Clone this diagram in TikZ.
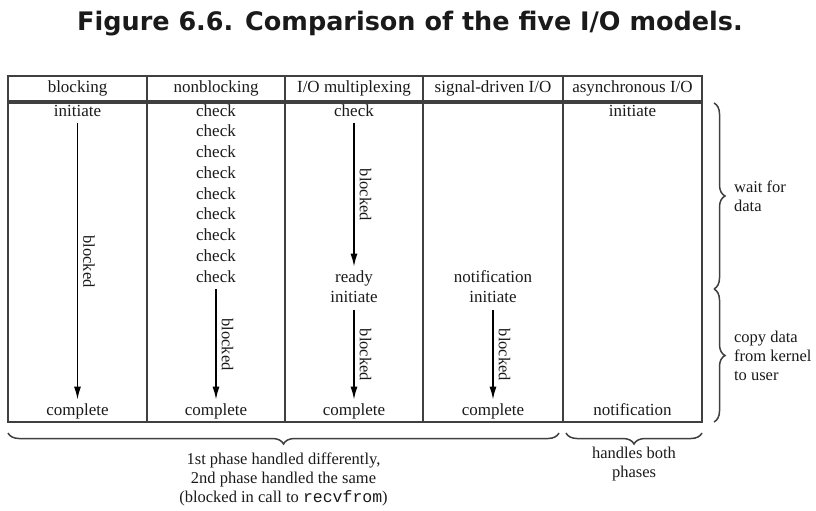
\documentclass[tikz,border=0pt]{standalone}
\usepackage{fontspec}
\setmainfont{Liberation Serif}
\setmonofont{Liberation Mono}
\newfontfamily\figfont{DejaVu Sans}
\usepackage{tikz}
\usetikzlibrary{arrows.meta,decorations.pathreplacing}
\definecolor{rulegray}{HTML}{404040}
\definecolor{inkgray}{HTML}{1A1A1A}

\begin{document}
\begin{tikzpicture}[x=1pt,y=-1pt,>={Latex[length=13pt,width=7pt]},
                    node distance=20.75pt,semithick]
  \tikzstyle{every node}=[text=inkgray,font=\rmfamily\fontsize{17}{20}\selectfont]
  \tikzstyle{cell}=[text height=11pt,text depth=3pt,inner ysep=4pt,inner xsep=1pt]
  \tikzstyle{frame}=[draw=rulegray,line width=1.8pt]
  \tikzstyle{call}=[->,draw=black,line width=1.6pt]
  \tikzstyle{wait}=[rotate=-90,anchor=south,inner ysep=5pt,inner xsep=0pt,
                    font=\rmfamily\fontsize{16.5}{18}\selectfont]
  \tikzstyle{side}=[decorate,decoration={brace,amplitude=11pt},draw=rulegray,
                    line width=1.5pt]
  \tikzstyle{note}=[align=left,font=\rmfamily\fontsize{16.5}{19}\selectfont]
  \useasboundingbox (0,0) rectangle (816,511);

  \node (title) at (410,24) {\figfont\bfseries\fontsize{25.5}{28}\selectfont
    Figure 6.6. Comparison of the five I/O models.};

  % table
  \draw[frame] (8,76) rectangle (702,422);
  \draw[draw=rulegray,line width=3.6pt] (8,102) -- (702,102);
  \draw[frame] (147,76) -- (147,422);
  \draw[frame] (285,76) -- (285,422);
  \draw[frame] (423,76) -- (423,422);
  \draw[frame] (563,76) -- (563,422);

  \node[cell] (hblk) at (77.5,88.5) {blocking};
  \node[cell] (hnon) at (216,88.5)  {nonblocking};
  \node[cell] (hmux) at (354,88.5)  {I/O multiplexing};
  \node[cell] (hsig) at (493,88.5)  {signal-driven I/O};
  \node[cell] (hasy) at (632.5,88.5) {asynchronous I/O};

  \node[cell] (binit) at (77.5,112) {initiate};
  \node[cell] (bdone) at (77.5,411) {complete};

  \node[cell] (n1) at (216,112) {check};
  \node[cell] (n2) [below of=n1] {check};
  \node[cell] (n3) [below of=n2] {check};
  \node[cell] (n4) [below of=n3] {check};
  \node[cell] (n5) [below of=n4] {check};
  \node[cell] (n6) [below of=n5] {check};
  \node[cell] (n7) [below of=n6] {check};
  \node[cell] (n8) [below of=n7] {check};
  \node[cell] (n9) [below of=n8] {check};
  \node[cell] (ndone) at (216,411) {complete};

  \node[cell] (mchk)  at (354,112) {check};
  \node[cell] (mrdy)  at (354,278) {ready};
  \node[cell] (minit) [below of=mrdy] {initiate};
  \node[cell] (mdone) at (354,411) {complete};

  \node[cell] (snote) at (493,278) {notification};
  \node[cell] (sinit) [below of=snote] {initiate};
  \node[cell] (sdone) at (493,411) {complete};

  \node[cell] (ainit) at (632.5,112) {initiate};
  \node[cell] (anote) at (632.5,411) {notification};

  \draw[call] (binit) -- node[wait] {blocked} (bdone);
  \draw[call] (n9)    -- node[wait] {blocked} (ndone);
  \draw[call] (mchk)  -- node[wait] {blocked} (mrdy);
  \draw[call] (minit) -- node[wait] {blocked} (mdone);
  \draw[call] (sinit) -- node[wait] {blocked} (sdone);

  % braces
  \coordinate (wtop) at (714,103);
  \coordinate (wmid) at (714,289);
  \coordinate (wbot) at (714,422);
  \coordinate (pL) at (8,433);
  \coordinate (pR) at (559,433);
  \coordinate (aL) at (566,433);
  \coordinate (aR) at (702,433);
  \draw[side] (wtop) -- node[note,anchor=west,xshift=16pt] {wait for\\data} (wmid);
  \draw[side] (wmid) -- node[note,anchor=west,xshift=16pt]
    {copy data\\from kernel\\to user} (wbot);
  \draw[side] (pR) -- node[note,align=center,below=16pt] {1st phase handled differently,\\
    2nd phase handled the same\\(blocked in call to \texttt{recvfrom})} (pL);
  \draw[side] (aR) -- node[note,align=center,below=10pt] {handles both\\phases} (aL);
\end{tikzpicture}
\end{document}
